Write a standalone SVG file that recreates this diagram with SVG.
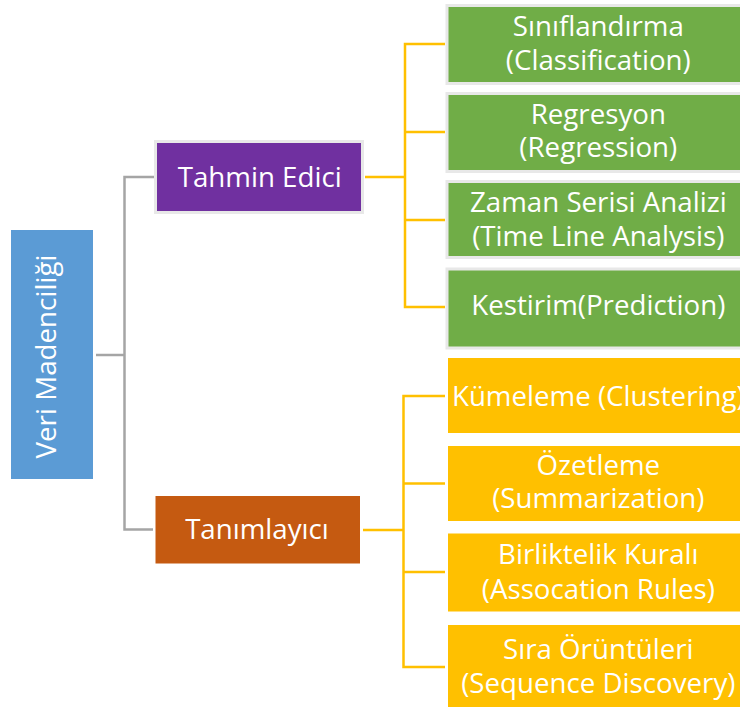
<svg xmlns="http://www.w3.org/2000/svg" width="740" height="707" viewBox="0 0 740 707">
<style>
  text { font-family: "Open Sans", "Noto Sans", "Liberation Sans", sans-serif; fill: #FFFFFF; font-size: 27.7px; text-anchor: middle; }
  .gray { stroke: #A5A5A5; stroke-width: 2.5; fill: none; }
  .yel { stroke: #FFC000; stroke-width: 2.5; fill: none; }
  .green { fill: #70AD47; stroke: #E8E8E8; stroke-width: 3; }
  .yellow { fill: #FFC000; }
</style>
<rect x="0" y="0" width="740" height="707" fill="#FFFFFF"/>
<g id="connectors">
  <polyline class="gray" points="96,355 124.5,355"/>
  <polyline class="gray" points="154,177 124.5,177 124.5,529.5 153,529.5"/>
  <polyline class="yel" points="365,177 405,177"/>
  <polyline class="yel" points="445,44 405,44 405,307 445,307"/>
  <polyline class="yel" points="405,132 445,132"/>
  <polyline class="yel" points="405,220 445,220"/>
  <polyline class="yel" points="363,530 403.5,530"/>
  <polyline class="yel" points="445,396 403.5,396 403.5,667 445,667"/>
  <polyline class="yel" points="403.5,483.5 445,483.5"/>
  <polyline class="yel" points="403.5,572 445,572"/>
</g>
<g id="veri-madenciligi">
  <rect x="11" y="230" width="82" height="249" fill="#5B9BD5"/>
  <text transform="translate(55.5,356.5) rotate(-90)" x="0" y="0" font-size="20.5" textLength="204" lengthAdjust="spacingAndGlyphs">Veri Madenciliği</text>
</g>
<g id="tahmin-edici">
  <rect x="155.5" y="141.5" width="207" height="71" fill="#7030A0" stroke="#E8E8E8" stroke-width="3"/>
  <text x="259.7" y="187.3">Tahmin Edici</text>
</g>
<g id="tanimlayici">
  <rect x="155.5" y="496" width="204.5" height="67.5" fill="#C55A11"/>
  <text x="257" y="539">Tanımlayıcı</text>
</g>
<g id="siniflandirma">
  <rect class="green" x="447" y="5.5" width="303" height="78"/>
  <text x="598.3" y="36">Sınıflandırma<tspan x="598.3" dy="34.3">(Classification)</tspan></text>
</g>
<g id="regresyon">
  <rect class="green" x="447" y="93.5" width="303" height="78"/>
  <text x="598.3" y="123.5">Regresyon<tspan x="598.3" dy="33.5">(Regression)</tspan></text>
</g>
<g id="zaman-serisi">
  <rect class="green" x="447" y="181.5" width="303" height="76"/>
  <text x="598.3" y="212">Zaman Serisi Analizi<tspan x="598.3" dy="33.5">(Time Line Analysis)</tspan></text>
</g>
<g id="kestirim">
  <rect class="green" x="447" y="269" width="303" height="79"/>
  <text x="598.3" y="315">Kestirim(Prediction)</text>
</g>
<g id="kumeleme">
  <rect class="yellow" x="448" y="358" width="302" height="75"/>
  <text x="598.3" y="405.7">Kümeleme (Clustering)</text>
</g>
<g id="ozetleme">
  <rect class="yellow" x="448" y="446" width="302" height="75"/>
  <text x="598.3" y="475">Özetleme<tspan x="598.3" dy="33.3">(Summarization)</tspan></text>
</g>
<g id="birliktelik">
  <rect class="yellow" x="448" y="533.5" width="302" height="78"/>
  <text x="598.3" y="564">Birliktelik Kuralı<tspan x="598.3" dy="35.3">(Assocation Rules)</tspan></text>
</g>
<g id="sira-oruntuleri">
  <rect class="yellow" x="448" y="625" width="302" height="85"/>
  <text x="598.3" y="659.3">Sıra Örüntüleri<tspan x="598.3" dy="34">(Sequence Discovery)</tspan></text>
</g>
</svg>
